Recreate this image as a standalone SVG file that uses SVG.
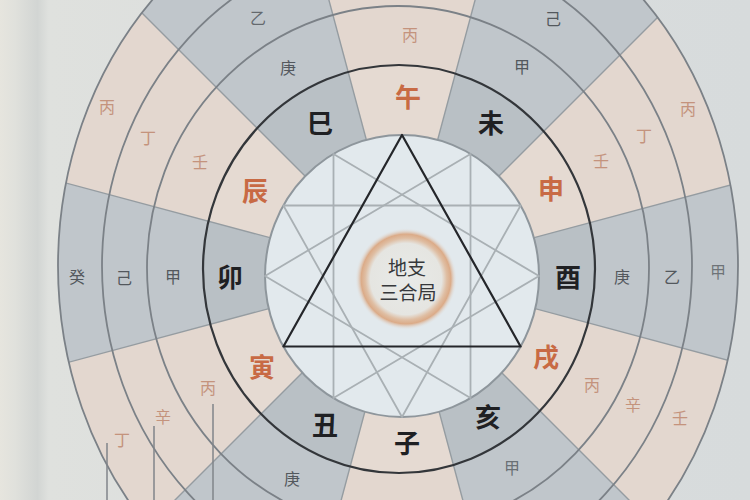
<svg xmlns="http://www.w3.org/2000/svg" width="750" height="500" viewBox="0 0 750 500">
<defs>
  <linearGradient id="bg" x1="0" y1="0" x2="1" y2="0">
    <stop offset="0" stop-color="#e6e5de"/>
    <stop offset="0.02" stop-color="#e0e1dc"/>
    <stop offset="0.05" stop-color="#d2d5d3"/>
    <stop offset="0.065" stop-color="#dfe1de"/>
    <stop offset="0.5" stop-color="#dadddd"/>
    <stop offset="1" stop-color="#d7dbdc"/>
  </linearGradient>
  <radialGradient id="glow" cx="0.5" cy="0.5" r="0.5">
    <stop offset="0" stop-color="#e8eae8"/>
    <stop offset="0.7" stop-color="#e5e5e1"/>
    <stop offset="0.8" stop-color="#dfbea3"/>
    <stop offset="0.88" stop-color="#dbab88"/>
    <stop offset="1" stop-color="#e2e9ed" stop-opacity="0"/>
  </radialGradient>
  <clipPath id="cE4"><ellipse cx="398" cy="266" rx="340" ry="385"/></clipPath>
  <clipPath id="cE1"><ellipse cx="399" cy="269" rx="196" ry="204"/></clipPath>
  <g id="grayW">
    <polygon points="402,273 609,-500 968,-293"/>
    <polygon points="402,273 1175,66 1175,480"/>
    <polygon points="402,273 968,839 609,1046"/>
    <polygon points="402,273 195,1046 -164,839"/>
    <polygon points="402,273 -371,480 -371,66"/>
    <polygon points="402,273 -164,-293 195,-500"/>
  </g>
  <style>
    .br{font-family:"Noto Sans CJK SC","Noto Sans CJK JP",sans-serif;font-size:26px;font-weight:700;text-anchor:middle}
    .blk{fill:#1f2023}
    .org{fill:#c86a44}
    .st{font-family:"Noto Sans CJK SC","Noto Sans CJK JP",sans-serif;font-size:16px;text-anchor:middle}
    .sg{fill:#53585d}
    .so{fill:#c4937d}
    .ring{fill:none;stroke:#7b8187;stroke-width:1.8}
    .rad{stroke:#959ca1;stroke-width:1.4}
    .star{fill:none;stroke:#a9b0b4;stroke-width:1.8;stroke-linejoin:round}
    .lead{stroke:#80858a;stroke-width:1.5}
  </style>
</defs>

<rect width="750" height="500" fill="url(#bg)"/>

<g id="wheel">
  <ellipse cx="398" cy="266" rx="340" ry="385" fill="#e3d7cf"/>
  <use href="#grayW" fill="#c0c6cb" clip-path="url(#cE4)"/>
  <ellipse cx="399" cy="269" rx="196" ry="204" fill="#e5dad2"/>
  <use href="#grayW" fill="#b9c0c5" clip-path="url(#cE1)"/>
  <g clip-path="url(#cE4)">
    <line class="rad" x1="195" y1="-500" x2="609" y2="1046"/>
    <line class="rad" x1="609" y1="-500" x2="195" y2="1046"/>
    <line class="rad" x1="968" y1="-293" x2="-164" y2="839"/>
    <line class="rad" x1="1175" y1="66" x2="-371" y2="480"/>
    <line class="rad" x1="1175" y1="480" x2="-371" y2="66"/>
    <line class="rad" x1="968" y1="839" x2="-164" y2="-293"/>
  </g>
  <ellipse class="ring" cx="398" cy="266" rx="340" ry="385" stroke-width="2.4"/>
  <ellipse class="ring" cx="397" cy="266" rx="295" ry="322"/>
  <ellipse class="ring" cx="398" cy="268" rx="251" ry="262"/>
  <ellipse cx="399" cy="269" rx="196" ry="204" fill="none" stroke="#33363a" stroke-width="2.2"/>
  <ellipse cx="402" cy="276" rx="137" ry="141" fill="#e2e9ed" stroke="#8e969c" stroke-width="2"/>
</g>

<g id="star">
  <polygon class="star" points="520.6,205.5 402,417 283.4,205.5"/>
  <polygon class="star" points="470.5,153.9 470.5,398.1 265,276"/>
  <polygon class="star" points="333.5,153.9 333.5,398.1 539,276"/>
  <polygon points="402,135 520.6,346.5 283.4,346.5" fill="none" stroke="#24262a" stroke-width="2.2" stroke-linejoin="round"/>
</g>

<g id="center">
  <circle cx="406" cy="279" r="51" fill="url(#glow)"/>
  <text x="407" y="275" font-family="'Noto Sans CJK SC','Noto Sans CJK JP',sans-serif" font-size="19" fill="#36383b" text-anchor="middle">地支</text>
  <text x="408" y="300" font-family="'Noto Sans CJK SC','Noto Sans CJK JP',sans-serif" font-size="19" fill="#36383b" text-anchor="middle">三合局</text>
</g>

<g id="si">
  <text class="br blk" x="320" y="133">巳</text>
  <text class="st sg" x="288" y="74">庚</text>
  <text class="st sg" x="258" y="24" fill-opacity="0.85">乙</text>
</g>
<g id="wu">
  <text class="br org" x="408" y="107">午</text>
  <text class="st so" x="410" y="41">丙</text>
</g>
<g id="wei">
  <text class="br blk" x="491" y="133">未</text>
  <text class="st sg" x="522" y="73">甲</text>
  <text class="st sg" x="553" y="25">己</text>
</g>
<g id="shen">
  <text class="br org" x="551" y="199">申</text>
  <text class="st so" x="601" y="167">壬</text>
  <text class="st so" x="644" y="142">丁</text>
  <text class="st so" x="688" y="115">丙</text>
</g>
<g id="you">
  <text class="br blk" x="568" y="287">酉</text>
  <text class="st sg" x="622" y="283">庚</text>
  <text class="st sg" x="672" y="283">乙</text>
  <text class="st sg" x="718" y="278" fill-opacity="0.75">甲</text>
</g>
<g id="xu">
  <text class="br org" x="546" y="367">戌</text>
  <text class="st so" x="592" y="391">丙</text>
  <text class="st so" x="633" y="411">辛</text>
  <text class="st so" x="680" y="424">壬</text>
</g>
<g id="hai">
  <text class="br blk" x="488" y="427">亥</text>
  <text class="st sg" x="512" y="474" fill-opacity="0.8">甲</text>
</g>
<g id="zi">
  <text class="br blk" x="407" y="453">子</text>
</g>
<g id="chou">
  <text class="br blk" x="325" y="435">丑</text>
  <text class="st sg" x="292" y="485">庚</text>
</g>
<g id="yin">
  <text class="br org" x="262" y="377">寅</text>
  <text class="st so" x="208" y="394">丙</text>
  <text class="st so" x="163" y="423">辛</text>
  <text class="st so" x="122" y="446">丁</text>
</g>
<g id="mao">
  <text class="br blk" x="230" y="287">卯</text>
  <text class="st sg" x="173" y="283">甲</text>
  <text class="st sg" x="124" y="284">己</text>
  <text class="st sg" x="77" y="283">癸</text>
</g>
<g id="chen">
  <text class="br org" x="255" y="201">辰</text>
  <text class="st so" x="200" y="168">壬</text>
  <text class="st so" x="148" y="144">丁</text>
  <text class="st so" x="107" y="113">丙</text>
</g>

<g id="connectors">
  <line class="lead" x1="213" y1="404" x2="213" y2="500"/>
  <line class="lead" x1="154" y1="426" x2="154" y2="500"/>
  <line class="lead" x1="107" y1="443" x2="107" y2="500"/>
</g>
</svg>
